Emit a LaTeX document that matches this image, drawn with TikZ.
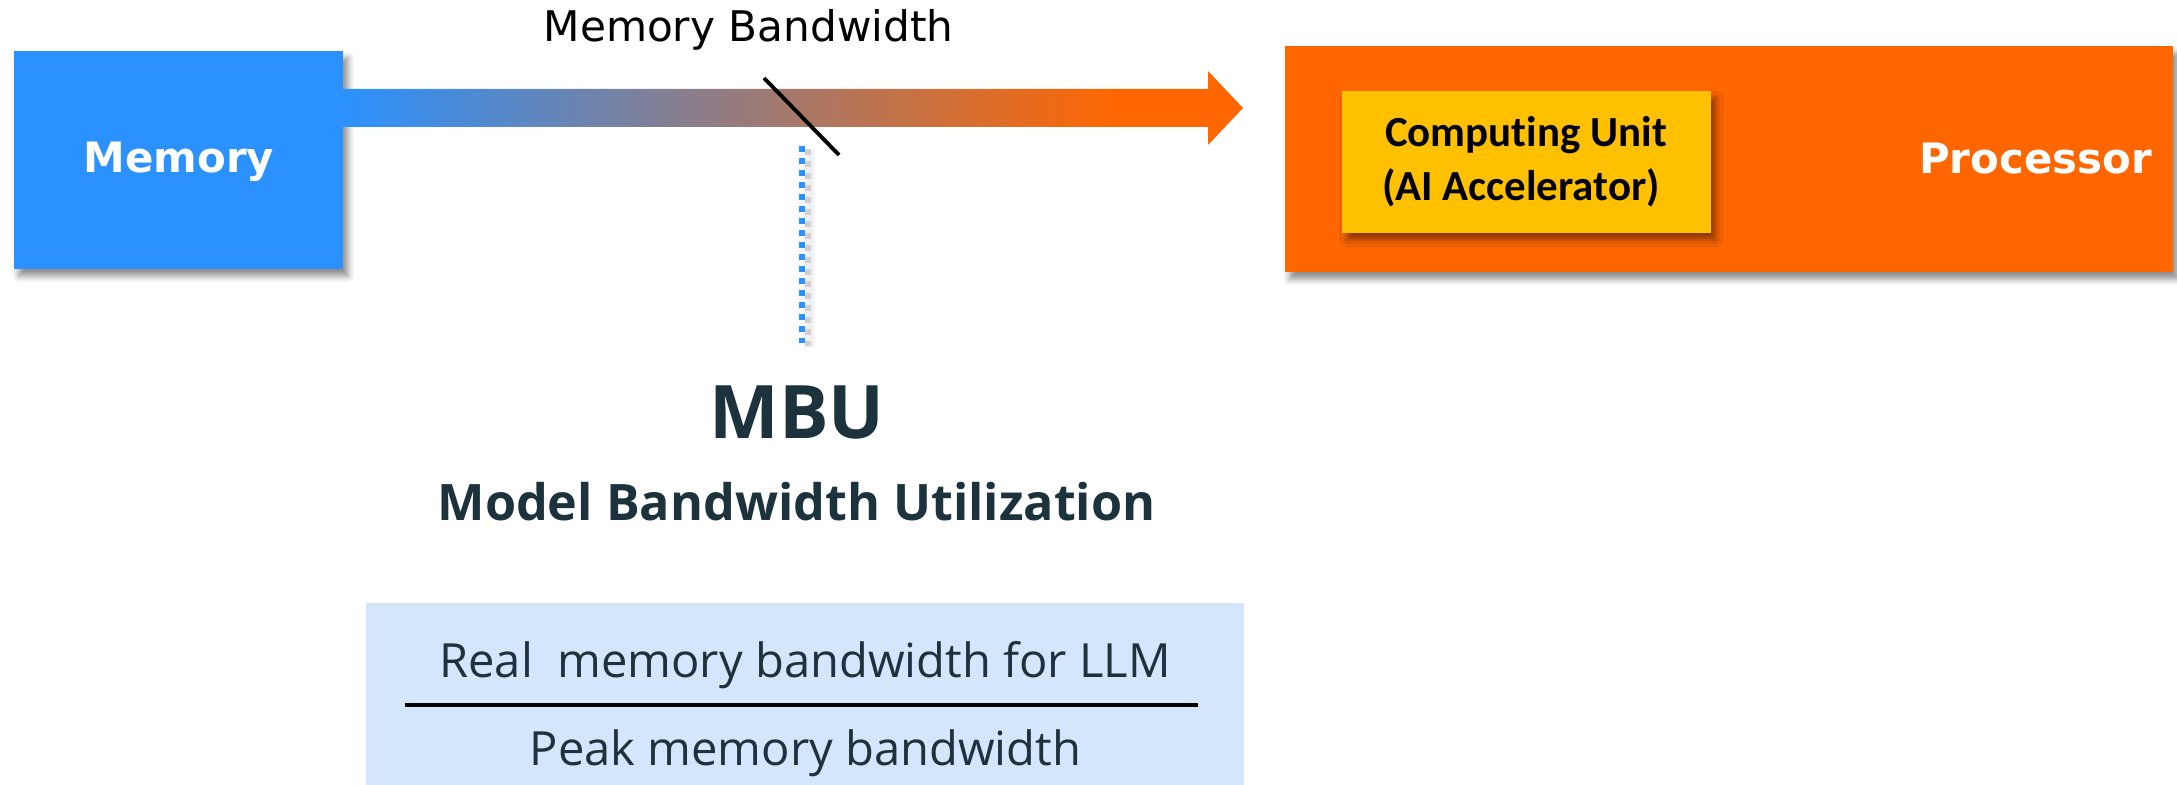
\documentclass[tikz,border=0pt]{standalone}
\usepackage{fontspec}
\setmainfont{DejaVu Sans}
\newfontfamily\calib[Ligatures=NoCommon]{Carlito}
\newfontfamily\gsans{Open Sans}
\usetikzlibrary{calc,shadows.blur}

\definecolor{memblue}{HTML}{2A91FE}
\definecolor{procorange}{HTML}{FF6600}
\definecolor{unitamber}{HTML}{FFC000}
\definecolor{slate}{HTML}{1C333D}
\definecolor{formulabg}{HTML}{D4E6FC}

% blue-to-orange flow along the bus arrow
\pgfdeclarehorizontalshading{busflow}{100bp}{color(0bp)=(memblue); color(25bp)=(memblue); color(68bp)=(procorange); color(100bp)=(procorange)}

\tikzset{
  blockbox/.style={draw=none, inner sep=0pt, outer sep=0pt,
    blur shadow={shadow xshift=1.4pt, shadow yshift=-2pt, shadow blur radius=1.8pt, shadow opacity=45}},
  lbl/.style={anchor=base, inner sep=0pt, outer sep=0pt},
  boldwhite/.style={lbl, text=white, font=\bfseries\fontsize{11.9pt}{14pt}\selectfont},
  unittext/.style={lbl, text=black, font=\calib\bfseries\fontsize{12.2pt}{14pt}\selectfont},
  formtext/.style={lbl, text=slate, font=\gsans\fontsize{13.4pt}{16pt}\selectfont},
  tapline/.style={memblue, line width=1.7pt, dash pattern=on 1.7pt off 1.71pt},
}

\begin{document}
\begin{tikzpicture}[x=0.01cm, y=-0.01cm]
\useasboundingbox (0,0) rectangle (2177,785);

% blocks
\node[blockbox, fill=memblue, minimum width=3.29cm, minimum height=2.18cm] (mem) at (178.5,160) {};
\node[blockbox, fill=procorange, minimum width=8.88cm, minimum height=2.26cm] (proc) at (1729,159) {};
\node[blockbox, fill=unitamber, minimum width=3.69cm, minimum height=1.42cm] (unit) at (1526.5,162) {};

\node[boldwhite] (memtxt) at (179,173) {Memory};
\node[boldwhite] (proctxt) at (2035.5,174) {Processor};
\node[unittext] (unit1) at (1526,147) {Computing Unit};
\node[unittext] (unit2) at (1521,201) {(AI Accelerator)};

% bandwidth arrow
\coordinate (tip) at (1243,108);
\coordinate (tail) at (mem.east |- tip);
\shade[shading=busflow]
  ($(tail)+(0,-19)$) -- ($(tip)+(-35,-19)$) -- ($(tip)+(-35,-37)$) -- (tip)
  -- ($(tip)+(-35,37)$) -- ($(tip)+(-35,19)$) -- ($(tail)+(0,19)$) -- cycle;

\node[lbl, font=\fontsize{12pt}{14pt}\selectfont] (bwtxt) at (748.5,42) {Memory Bandwidth};

% cut mark across the bus
\coordinate (cutA) at (764,78);
\coordinate (cutB) at (839,155);
\draw[line width=1.1pt] (cutA) -- (cutB);

% dotted tap down to the metric, with a soft shadow
\coordinate (tapA) at (802,146);
\coordinate (tapB) at (802,343);
\draw[line width=3pt, black!8, opacity=0.7] ($(tapA)+(7,4)$) -- ($(tapB)+(7,4)$);
\draw[tapline, black!30, opacity=0.5] ($(tapA)+(6,3)$) -- ($(tapB)+(6,3)$);
\draw[tapline] (tapA) -- (tapB);

% metric title
\node[lbl, text=slate, font=\gsans\bfseries\fontsize{21pt}{24pt}\selectfont] (mbu) at (797,439) {MBU};
\node[lbl, text=slate, font=\gsans\bfseries\fontsize{14.3pt}{17pt}\selectfont] (mbuname) at (796.5,521) {Model Bandwidth Utilization};

% formula
\node[draw=none, fill=formulabg, inner sep=0pt, minimum width=8.78cm, minimum height=1.82cm] (formula) at (805,694) {};
\node[formtext] (numer) at (805,677) {Real\ \ memory bandwidth for LLM};
\node[formtext] (denom) at (805.5,765) {Peak memory bandwidth};
\coordinate (ruleA) at (405,705);
\coordinate (ruleB) at (1198,705);
\draw[line width=1.15pt] (ruleA) -- (ruleB);
\end{tikzpicture}
\end{document}
